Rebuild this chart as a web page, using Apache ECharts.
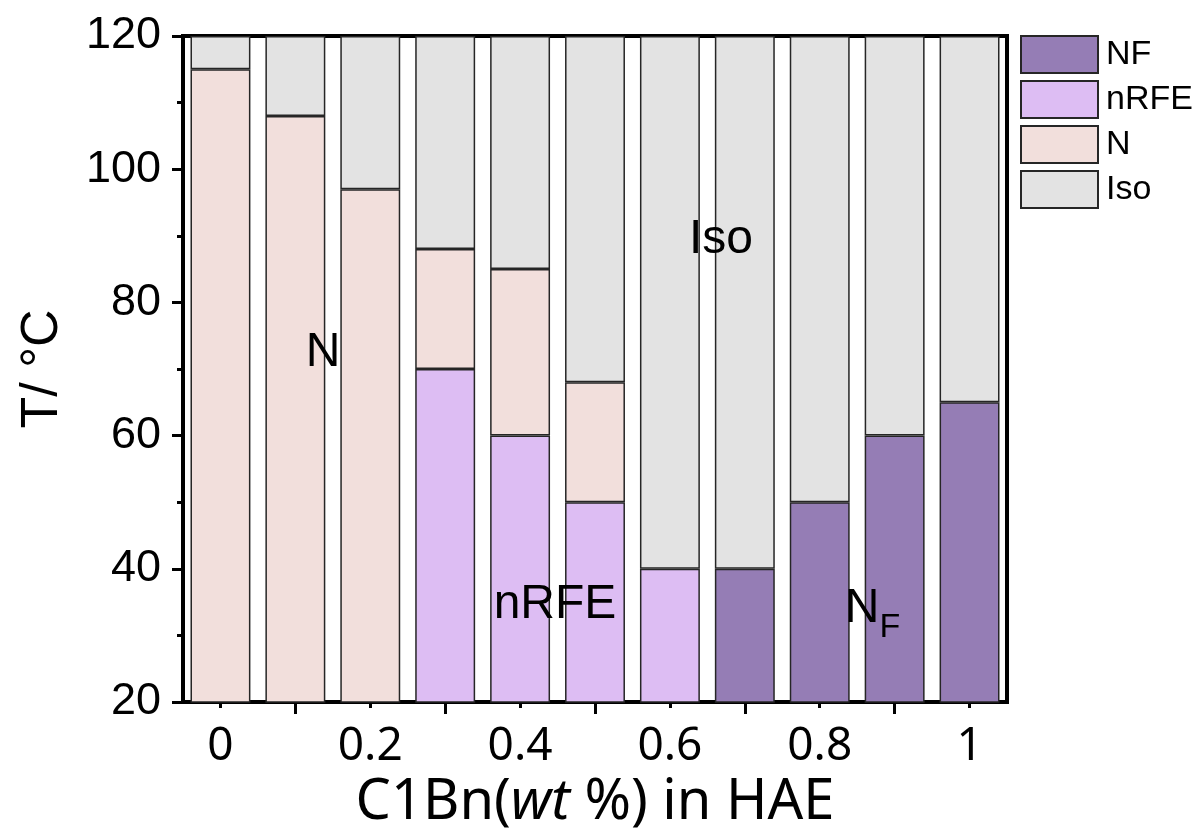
<!DOCTYPE html>
<html>
<head>
<meta charset="utf-8">
<script src="https://cdn.jsdelivr.net/npm/echarts@6/dist/echarts.min.js"></script>
<style>
  html, body { margin: 0; padding: 0; background: #fff; }
  #chart { width: 1198px; height: 830px; }
</style>
</head>
<body>
<div id="chart"></div>
<script>
// C1Bn content (wt %) in HAE
const categories = [0, 0.1, 0.2, 0.3, 0.4, 0.5, 0.6, 0.7, 0.8, 0.9, 1.0];

// Upper temperature bound (°C) of each phase at each composition; null = phase absent
const nfTop   = [null, null, null, null, null, null, null, 40, 50, 60, 65];
const nrfeTop = [null, null, null, 70, 60, 50, 40, null, null, null, null];
const nTop    = [115, 108, 97, 88, 85, 68, null, null, null, null, null];
const isoTop  = [120, 120, 120, 120, 120, 120, 120, 120, 120, 120, 120];

const phaseNames = ['NF', 'nRFE', 'N', 'Iso'];
const phaseColors = ['#957db5', '#ddbdf3', '#f2dfdc', '#e3e3e3'];

// Y axis range
const yMin = 20, yMax = 120, yStep = 20;

// Turn stacked upper bounds into segment heights for a stacked bar
function segments(tops) {
  const out = tops.map(() => []);
  categories.forEach((_, i) => {
    let base = 0;
    tops.forEach((arr, k) => {
      const t = arr[i];
      if (t == null) { out[k].push(null); }
      else { out[k].push(t - base); base = t; }
    });
  });
  return out;
}
const segs = segments([nfTop, nrfeTop, nTop, isoTop]);

const chart = echarts.init(document.getElementById('chart'), null, { renderer: 'canvas' });

const series = phaseNames.map((name, k) => ({
  name: name,
  type: 'bar',
  stack: 'phase',
  xAxisIndex: 0,
  barCategoryGap: '20%',
  data: segs[k],
  itemStyle: { color: phaseColors[k], borderColor: '#262626', borderWidth: 1.5 },
  emphasis: { disabled: true }
}));

// Phase region labels drawn over the bars
const labelFont = 'Liberation Sans';
function regionText(x, y, text, size) {
  return {
    type: 'text', x: x, y: y, z: 100, silent: true,
    style: { text: text, fontSize: size, fontFamily: labelFont, fill: '#000', align: 'center', verticalAlign: 'middle' }
  };
}

chart.setOption({
  animation: false,
  grid: {
    left: 183, right: 191, top: 36, bottom: 128,
    outerBoundsMode: 'none',
    containLabel: false,
    show: true, borderColor: '#000', borderWidth: 4, backgroundColor: 'transparent'
  },
  legend: {
    data: phaseNames,
    orient: 'vertical',
    left: 1015, top: 30,
    itemWidth: 77, itemHeight: 37, itemGap: 6,
    icon: 'rect',
    selectedMode: false,
    textStyle: { fontSize: 34, fontFamily: 'Liberation Sans', color: '#000', padding: [0, 0, 0, 3] }
  },
  xAxis: [
    {
      type: 'category',
      position: 'bottom',
      data: categories,
      boundaryGap: true,
      axisLine: { show: true, lineStyle: { color: '#000', width: 4 } },
      axisTick: {
        show: true, alignWithLabel: true, length: 12,
        interval: (i) => i % 2 === 1,
        lineStyle: { color: '#000', width: 3 }
      },
      axisLabel: {
        interval: 1, margin: 22,
        formatter: (v) => String(Number(v)),
        fontSize: 46, fontFamily: 'Noto Sans', color: '#000'
      },
      splitLine: { show: false },
      name: '{a|C1Bn(}{i|wt}{a| %) in HAE}',
      nameLocation: 'middle',
      nameGap: 66,
      nameTextStyle: {
        rich: {
          a: { fontSize: 56, fontFamily: 'Noto Sans', color: '#000' },
          i: { fontSize: 56, fontFamily: 'Noto Sans', fontStyle: 'italic', color: '#000' }
        }
      }
    },
    {
      type: 'category',
      position: 'bottom',
      data: categories,
      boundaryGap: true,
      axisLine: { show: false },
      axisTick: {
        show: true, alignWithLabel: true, length: 6,
        interval: (i) => i % 2 === 0,
        lineStyle: { color: '#000', width: 3 }
      },
      axisLabel: { show: false },
      splitLine: { show: false }
    }
  ],
  yAxis: {
    type: 'value',
    min: yMin, max: yMax, interval: yStep,
    axisLine: { show: true, lineStyle: { color: '#000', width: 4 } },
    axisTick: { show: true, length: 11, lineStyle: { color: '#000', width: 3 } },
    minorTick: { show: true, splitNumber: 2, length: 6, lineStyle: { color: '#000', width: 3 } },
    splitLine: { show: false },
    axisLabel: { margin: 22, fontSize: 45, fontFamily: 'Liberation Sans', color: '#000' },
    name: 'T/ °C',
    nameLocation: 'middle',
    nameGap: 114,
    nameTextStyle: { fontSize: 52, fontFamily: 'Liberation Sans', color: '#000' }
  },
  graphic: [
    regionText(323, 353, 'N', 48),
    regionText(721, 240, 'Iso', 48),
    regionText(555, 605, 'nRFE', 48),
    regionText(862, 609, 'N', 48),
    regionText(890, 628, 'F', 34)
  ],
  series: series
});
</script>
</body>
</html>
